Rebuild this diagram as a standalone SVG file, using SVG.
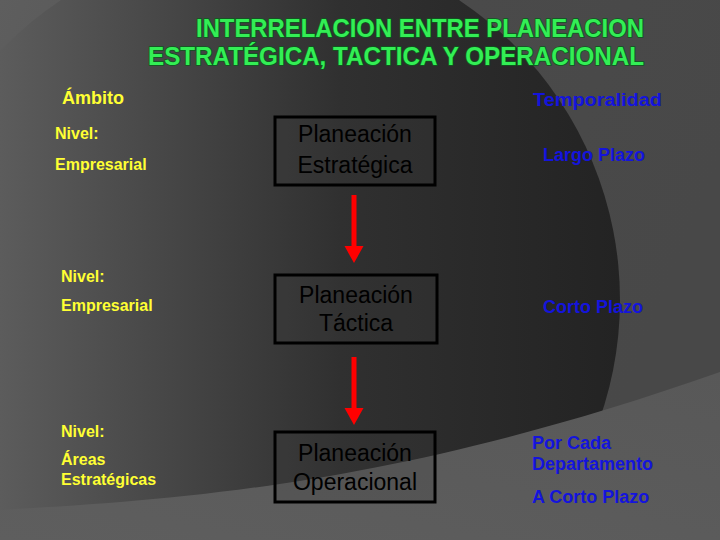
<svg xmlns="http://www.w3.org/2000/svg" width="720" height="540" viewBox="0 0 720 540">
<defs>
<linearGradient id="bg" x1="0" y1="0" x2="1" y2="0.3">
<stop offset="0" stop-color="#5e5e5e"/>
<stop offset="0.6" stop-color="#4a4a4a"/>
<stop offset="1" stop-color="#484848"/>
</linearGradient>
<linearGradient id="disk" gradientUnits="userSpaceOnUse" x1="0" y1="0" x2="620" y2="0">
<stop offset="0" stop-color="#5c5c5c"/>
<stop offset="0.55" stop-color="#303030"/>
<stop offset="1" stop-color="#232323"/>
</linearGradient>
<linearGradient id="band" x1="0" y1="1" x2="1" y2="0">
<stop offset="0" stop-color="#5e5e5e"/>
<stop offset="1" stop-color="#585858"/>
</linearGradient>
<style>
.title{font-family:"Liberation Sans",Arial,sans-serif;font-weight:bold;font-size:25px;fill:#33ee55;stroke:#0b5a1c;stroke-width:1.6px;paint-order:stroke;}
.y{font-family:"Liberation Sans",Arial,sans-serif;font-weight:bold;font-size:16px;fill:#ffff33;}
.b{font-family:"Liberation Sans",Arial,sans-serif;font-weight:bold;font-size:18px;fill:#1414dc;}
.hd{font-size:18px;}
.box{fill:#3a3a3a;fill-opacity:0.2;stroke:#000;stroke-width:3;}
.bt{font-family:"Liberation Sans",Arial,sans-serif;font-size:23px;fill:#000;text-anchor:middle;}
.arr{stroke:#ff0000;stroke-width:5;fill:none;}
.head{fill:#ff0000;}
</style>
</defs>
<rect width="720" height="540" fill="url(#bg)"/>
<circle cx="260" cy="300" r="360" fill="url(#disk)"/>
<path d="M0,540 L0,510 C180,500 400,485 720,372 L720,540 Z" fill="url(#band)"/>
<g id="title">
<text class="title" x="644" y="37" text-anchor="end" textLength="448" lengthAdjust="spacingAndGlyphs">INTERRELACION ENTRE PLANEACION</text>
<text class="title" x="644" y="65" text-anchor="end" textLength="496" lengthAdjust="spacingAndGlyphs">ESTRATÉGICA, TACTICA Y OPERACIONAL</text>
</g>
<g id="ambito"><text class="y hd" x="62" y="104">Ámbito</text></g>
<g id="temporalidad"><text class="b hd" x="533" y="106" textLength="129" lengthAdjust="spacingAndGlyphs">Temporalidad</text></g>
<g id="nivel1"><text class="y" x="55" y="139">Nivel:</text><text class="y" x="55" y="170">Empresarial</text></g>
<g id="nivel2"><text class="y" x="61" y="282">Nivel:</text><text class="y" x="61" y="311">Empresarial</text></g>
<g id="nivel3"><text class="y" x="61" y="437">Nivel:</text><text class="y" x="61" y="465">Áreas</text><text class="y" x="61" y="485">Estratégicas</text></g>
<g id="n1"><rect class="box" x="275" y="117" width="160" height="68"/><text class="bt" x="355" y="142">Planeación</text><text class="bt" x="355" y="173">Estratégica</text></g>
<g id="n2"><rect class="box" x="275" y="275" width="162" height="68"/><text class="bt" x="356" y="303">Planeación</text><text class="bt" x="356" y="331">Táctica</text></g>
<g id="n3"><rect class="box" x="275" y="432" width="160" height="70"/><text class="bt" x="355" y="461">Planeación</text><text class="bt" x="355" y="490">Operacional</text></g>
<g id="connectors">
<line class="arr" x1="354" y1="195" x2="354" y2="248"/>
<polygon class="head" points="344.5,246 363.5,246 354,263"/>
<line class="arr" x1="354" y1="357" x2="354" y2="410"/>
<polygon class="head" points="344.5,408 363.5,408 354,425"/>
</g>
<g id="t1"><text class="b" x="543" y="161">Largo Plazo</text></g>
<g id="t2"><text class="b" x="543" y="313">Corto Plazo</text></g>
<g id="t3"><text class="b" x="532" y="449">Por Cada</text><text class="b" x="532" y="470">Departamento</text><text class="b" x="532" y="503">A Corto Plazo</text></g>
</svg>
